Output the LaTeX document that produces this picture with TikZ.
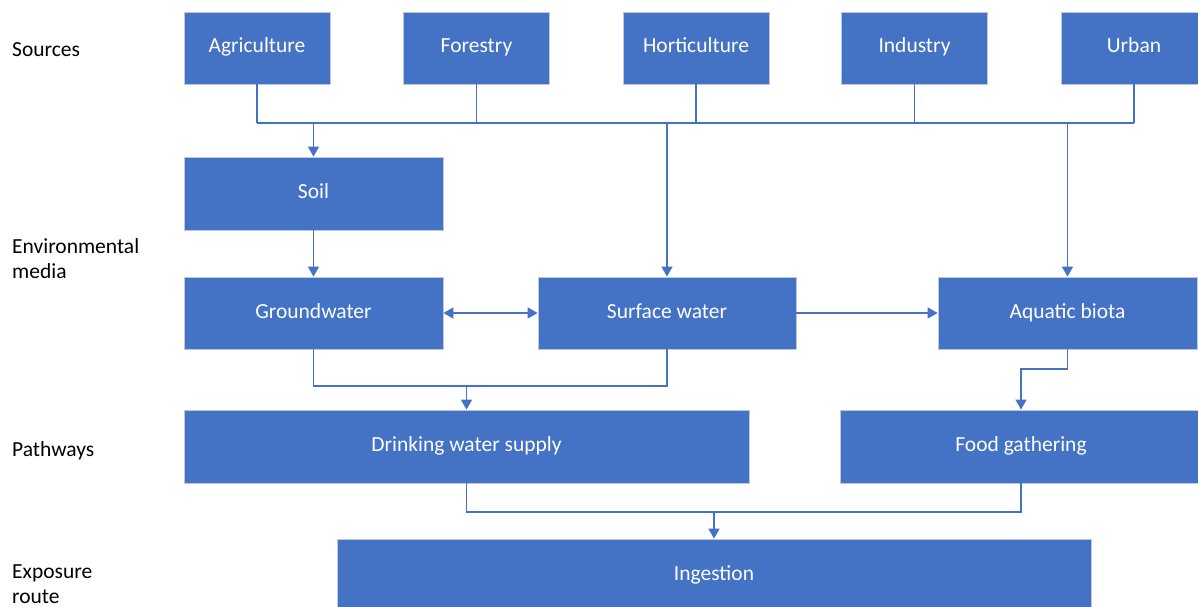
\documentclass[tikz,border=0pt]{standalone}
\usepackage{fontspec}
\setmainfont{Carlito}
\usetikzlibrary{arrows.meta}
\definecolor{boxblue}{HTML}{4472C4}
\definecolor{boxedge}{HTML}{C0C8D8}
\begin{document}
\begin{tikzpicture}[x=1pt,y=-1pt,
  box/.style={fill=boxblue, draw=boxedge, line width=0.8pt, text=white,
    font=\fontsize{21.5}{25}\selectfont, inner sep=0pt, minimum height=72pt,
    text height=14pt, text depth=4pt},
  conn/.style={draw=boxblue, line width=1.5pt},
  arr/.style={conn, -{Triangle[length=10pt,width=11pt]}},
  tier/.style={anchor=west, align=left, font=\fontsize{21.5}{25}\selectfont, inner sep=0pt}]
\useasboundingbox (0,0) rectangle (1198,607);
% tier labels
\node[tier] (lsrc) at (12,50) {Sources};
\node[tier] (lenv) at (12,258.5) {Environmental\\media};
\node[tier] (lpath) at (12,451) {Pathways};
\node[tier] (lexp) at (12,584.5) {Exposure\\route};
% sources
\node[box, minimum width=146pt] (agri) at (257,48) {Agriculture};
\node[box, minimum width=146pt] (fore) at (476.5,48) {Forestry};
\node[box, minimum width=146pt] (hort) at (696,48) {Horticulture};
\node[box, minimum width=146pt] (indu) at (914.5,48) {Industry};
\node[box, minimum width=146pt] (urban) at (1134,48) {Urban};
% environmental media
\node[box, minimum width=259pt, minimum height=73pt] (soil) at (313.5,193.5) {Soil};
\node[box, minimum width=259pt] (gw) at (313.5,313) {Groundwater};
\node[box, minimum width=258pt] (sw) at (667,313) {Surface water};
\node[box, minimum width=259pt] (aq) at (1067.5,313) {Aquatic biota};
% pathways
\node[box, minimum width=565pt, minimum height=73pt] (dws) at (466.5,446.5) {Drinking water supply};
\node[box, minimum width=362pt, minimum height=73pt] (food) at (1021,446.5) {Food gathering};
% exposure
\node[box, minimum width=754pt] (ing) at (714,575) {Ingestion};
% bus coordinates
\coordinate (bus) at (0,123);
\coordinate (gwbus) at (0,386);
\coordinate (aqbus) at (0,369);
\coordinate (pbus) at (0,512);
% source connectors
\draw[conn] (agri.south) -- (agri.south |- bus);
\draw[conn] (fore.south) -- (fore.south |- bus);
\draw[conn] (hort.south) -- (hort.south |- bus);
\draw[conn] (indu.south) -- (indu.south |- bus);
\draw[conn] (urban.south) -- (urban.south |- bus);
\draw[conn] (agri.south |- bus) -- (urban.south |- bus);
\draw[arr] (soil.north |- bus) -- (soil.north);
\draw[arr] (sw.north |- bus) -- (sw.north);
\draw[arr] (aq.north |- bus) -- (aq.north);
% media connectors
\draw[arr] (soil.south) -- (gw.north);
\draw[conn, {Triangle[length=10pt,width=11pt]}-{Triangle[length=10pt,width=11pt]}] (gw.east) -- (sw.west);
\draw[arr] (sw.east) -- (aq.west);
\draw[conn] (gw.south) -- (gw.south |- gwbus) -- (sw.south |- gwbus) -- (sw.south);
\draw[arr] (dws.north |- gwbus) -- (dws.north);
\draw[arr] (aq.south) -- (aq.south |- aqbus) -| (food.north);
% pathway connectors
\draw[conn] (dws.south) -- (dws.south |- pbus) -- (food.south |- pbus) -- (food.south);
\draw[arr] (ing.north |- pbus) -- (ing.north);
\end{tikzpicture}
\end{document}
